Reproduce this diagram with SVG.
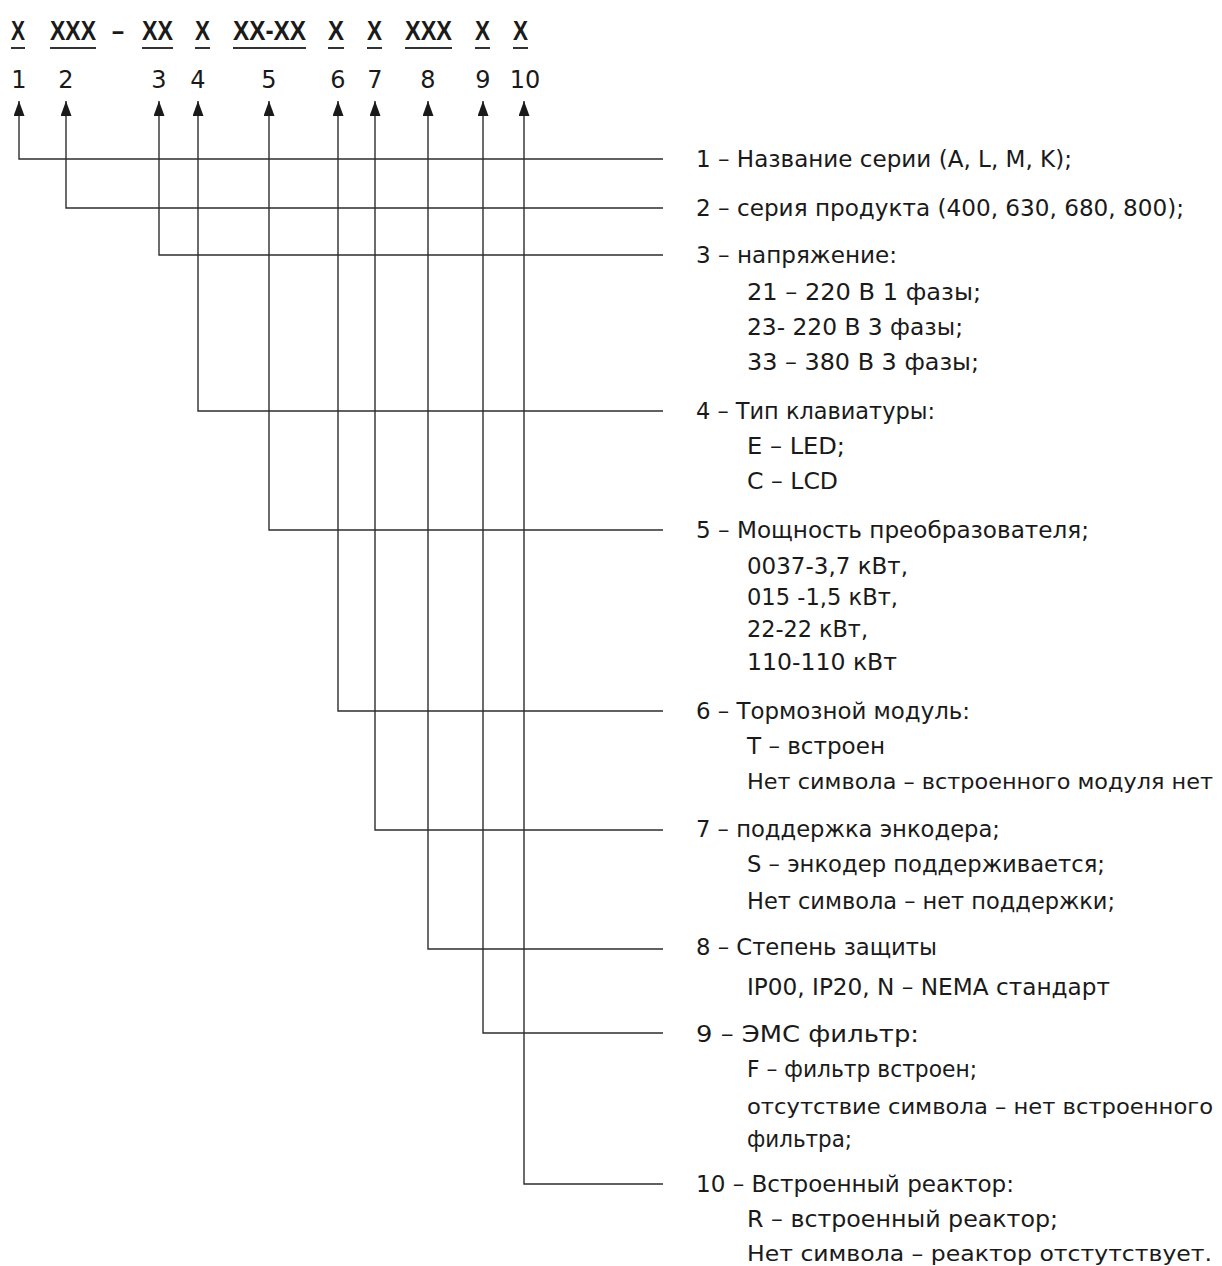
<svg xmlns="http://www.w3.org/2000/svg" width="1222" height="1266" viewBox="0 0 1222 1266">
<style>
.hd{font-family:"Liberation Sans",Arial,sans-serif;font-weight:bold;font-size:27px;fill:#1a1a1a}
.dg{font-family:"DejaVu Sans","Liberation Sans",sans-serif;font-size:24px;fill:#1a1a1a;text-anchor:middle}
.t{font-family:"DejaVu Sans","Liberation Sans",sans-serif;font-size:23px;fill:#1a1a1a}
.w{font-size:22px}
.ul{fill:#333}
.c{fill:none;stroke:#2e2e2e;stroke-width:1.4}
</style>
<defs>
<marker id="ah" viewBox="0 0 15 11" refX="15" refY="5.5" markerWidth="15" markerHeight="11" markerUnits="userSpaceOnUse" orient="auto">
<path d="M0,0 L15,5.5 L0,11 z" fill="#1a1a1a"/>
</marker>
</defs>
<g id="header">
<text class="hd" x="11" y="40" textLength="14" lengthAdjust="spacingAndGlyphs">X</text>
<text class="hd" x="50" y="40" textLength="46" lengthAdjust="spacingAndGlyphs">XXX</text>
<text class="hd" x="112" y="40" textLength="12" lengthAdjust="spacingAndGlyphs">–</text>
<text class="hd" x="142" y="40" textLength="31" lengthAdjust="spacingAndGlyphs">XX</text>
<text class="hd" x="195" y="40" textLength="15" lengthAdjust="spacingAndGlyphs">X</text>
<text class="hd" x="233" y="40" textLength="73" lengthAdjust="spacingAndGlyphs">XX-XX</text>
<text class="hd" x="328" y="40" textLength="16" lengthAdjust="spacingAndGlyphs">X</text>
<text class="hd" x="367" y="40" textLength="15" lengthAdjust="spacingAndGlyphs">X</text>
<text class="hd" x="405" y="40" textLength="47" lengthAdjust="spacingAndGlyphs">XXX</text>
<text class="hd" x="475" y="40" textLength="15" lengthAdjust="spacingAndGlyphs">X</text>
<text class="hd" x="513" y="40" textLength="15" lengthAdjust="spacingAndGlyphs">X</text>
<rect class="ul" x="11" y="47" width="14" height="2"/>
<rect class="ul" x="50" y="47" width="46" height="2"/>
<rect class="ul" x="142" y="47" width="31" height="2"/>
<rect class="ul" x="195" y="47" width="15" height="2"/>
<rect class="ul" x="233" y="47" width="73" height="2"/>
<rect class="ul" x="328" y="47" width="16" height="2"/>
<rect class="ul" x="367" y="47" width="15" height="2"/>
<rect class="ul" x="405" y="47" width="47" height="2"/>
<rect class="ul" x="475" y="47" width="15" height="2"/>
<rect class="ul" x="513" y="47" width="15" height="2"/>
<text class="dg" x="19" y="88">1</text>
<text class="dg" x="66" y="88">2</text>
<text class="dg" x="159" y="88">3</text>
<text class="dg" x="198" y="88">4</text>
<text class="dg" x="269" y="88">5</text>
<text class="dg" x="338" y="88">6</text>
<text class="dg" x="375" y="88">7</text>
<text class="dg" x="428" y="88">8</text>
<text class="dg" x="483" y="88">9</text>
<text class="dg" x="525" y="88">10</text>
</g>
<g id="connectors">
<path class="c" d="M663,159 H19 V101" marker-end="url(#ah)"/>
<path class="c" d="M663,208 H66 V101" marker-end="url(#ah)"/>
<path class="c" d="M663,255 H159 V101" marker-end="url(#ah)"/>
<path class="c" d="M663,411 H198 V101" marker-end="url(#ah)"/>
<path class="c" d="M663,530 H269 V101" marker-end="url(#ah)"/>
<path class="c" d="M663,711 H338 V101" marker-end="url(#ah)"/>
<path class="c" d="M663,830 H375 V101" marker-end="url(#ah)"/>
<path class="c" d="M663,949 H428 V101" marker-end="url(#ah)"/>
<path class="c" d="M663,1033 H483 V101" marker-end="url(#ah)"/>
<path class="c" d="M663,1184 H524 V101" marker-end="url(#ah)"/>
</g>
<g id="n1"><text class="t" x="696" y="167" textLength="376" lengthAdjust="spacingAndGlyphs">1 – Название серии (A, L, M, K);</text></g>
<g id="n2"><text class="t" x="696" y="216" textLength="488" lengthAdjust="spacingAndGlyphs">2 – серия продукта (400, 630, 680, 800);</text></g>
<g id="n3">
<text class="t" x="696" y="263" textLength="201" lengthAdjust="spacingAndGlyphs">3 – напряжение:</text>
<text class="t" x="747" y="300" textLength="234" lengthAdjust="spacingAndGlyphs">21 – 220 В 1 фазы;</text>
<text class="t" x="747" y="335" textLength="216" lengthAdjust="spacingAndGlyphs">23- 220 В 3 фазы;</text>
<text class="t" x="747" y="370" textLength="232" lengthAdjust="spacingAndGlyphs">33 – 380 В 3 фазы;</text>
</g>
<g id="n4">
<text class="t" x="696" y="419" textLength="239" lengthAdjust="spacingAndGlyphs">4 – Тип клавиатуры:</text>
<text class="t" x="747" y="454" textLength="98" lengthAdjust="spacingAndGlyphs">E – LED;</text>
<text class="t" x="747" y="489" textLength="91" lengthAdjust="spacingAndGlyphs">C – LCD</text>
</g>
<g id="n5">
<text class="t" x="696" y="538" textLength="393" lengthAdjust="spacingAndGlyphs">5 – Мощность преобразователя;</text>
<text class="t" x="747" y="574" textLength="161" lengthAdjust="spacingAndGlyphs">0037-3,7 кВт,</text>
<text class="t" x="747" y="605" textLength="151" lengthAdjust="spacingAndGlyphs">015 -1,5 кВт,</text>
<text class="t" x="747" y="637" textLength="121" lengthAdjust="spacingAndGlyphs">22-22 кВт,</text>
<text class="t" x="747" y="670" textLength="150" lengthAdjust="spacingAndGlyphs">110-110 кВт</text>
</g>
<g id="n6">
<text class="t" x="696" y="719" textLength="274" lengthAdjust="spacingAndGlyphs">6 – Тормозной модуль:</text>
<text class="t" x="747" y="754" textLength="138" lengthAdjust="spacingAndGlyphs">T – встроен</text>
<text class="t w" x="747" y="789" textLength="466" lengthAdjust="spacingAndGlyphs">Нет символа – встроенного модуля нет</text>
</g>
<g id="n7">
<text class="t" x="696" y="837" textLength="304" lengthAdjust="spacingAndGlyphs">7 – поддержка энкодера;</text>
<text class="t" x="747" y="872" textLength="358" lengthAdjust="spacingAndGlyphs">S – энкодер поддерживается;</text>
<text class="t" x="747" y="909" textLength="368" lengthAdjust="spacingAndGlyphs">Нет символа – нет поддержки;</text>
</g>
<g id="n8">
<text class="t" x="696" y="955" textLength="241" lengthAdjust="spacingAndGlyphs">8 – Степень защиты</text>
<text class="t" x="747" y="995" textLength="363" lengthAdjust="spacingAndGlyphs">IP00, IP20, N – NEMA стандарт</text>
</g>
<g id="n9">
<text class="t" x="696" y="1042" textLength="223" lengthAdjust="spacingAndGlyphs">9 – ЭМС фильтр:</text>
<text class="t" x="747" y="1077" textLength="230" lengthAdjust="spacingAndGlyphs">F – фильтр встроен;</text>
<text class="t w" x="747" y="1114" textLength="466" lengthAdjust="spacingAndGlyphs">отсутствие символа – нет встроенного</text>
<text class="t" x="747" y="1147" textLength="105" lengthAdjust="spacingAndGlyphs">фильтра;</text>
</g>
<g id="n10">
<text class="t" x="696" y="1192" textLength="318" lengthAdjust="spacingAndGlyphs">10 – Встроенный реактор:</text>
<text class="t" x="747" y="1227" textLength="311" lengthAdjust="spacingAndGlyphs">R – встроенный реактор;</text>
<text class="t w" x="747" y="1261" textLength="465" lengthAdjust="spacingAndGlyphs">Нет символа – реактор отстутствует.</text>
</g>
</svg>
